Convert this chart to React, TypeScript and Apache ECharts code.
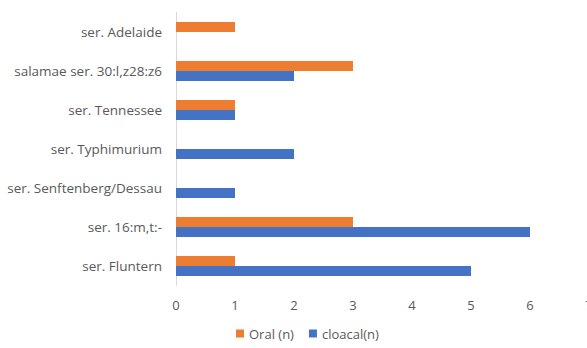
import React, { useEffect, useRef } from "react";
import * as echarts from "echarts";

const categories = [
  "ser. Fluntern",
  "ser. 16:m,t:-",
  "ser. Senftenberg/Dessau",
  "ser. Typhimurium",
  "ser. Tennessee",
  "salamae ser. 30:l,z28:z6",
  "ser. Adelaide",
];
const oralValues = [1, 3, 0, 0, 1, 3, 1];
const cloacalValues = [5, 6, 1, 2, 1, 2, 0];
const seriesNames = ["Oral (n)", "cloacal(n)"];

export default function App() {
  const ref = useRef<HTMLDivElement>(null);
  useEffect(() => {
    if (!ref.current) return;
    const chart = echarts.init(ref.current, null, { renderer: "svg" });
    const font = "Open Sans, Liberation Sans, sans-serif";
    chart.setOption({
      animation: false,
      textStyle: { fontFamily: font },
      grid: { left: 176, right: -2, top: 12.5, bottom: 62.5, outerBoundsMode: "none" },
      legend: {
        data: seriesNames,
        bottom: 3,
        left: 231,
        itemWidth: 8,
        itemHeight: 8,
        icon: "rect",
        itemGap: 15,
        textStyle: { color: "#595959", fontSize: 13, fontFamily: font },
      },
      xAxis: {
        type: "value",
        min: 0,
        max: 7,
        interval: 1,
        axisLine: { show: false },
        axisTick: { show: false },
        splitLine: { show: false },
        axisLabel: { color: "#595959", fontSize: 13, margin: 13, fontFamily: font },
      },
      yAxis: {
        type: "category",
        data: categories,
        axisLine: { show: true, lineStyle: { color: "#D9D9D9", width: 1 } },
        axisTick: { show: false },
        axisLabel: { color: "#595959", fontSize: 13.5, margin: 14, fontFamily: font },
      },
      series: [
        {
          name: seriesNames[0],
          type: "bar",
          data: oralValues,
          barWidth: 10,
          barGap: "0%",
          itemStyle: { color: "#ED7D31" },
        },
        {
          name: seriesNames[1],
          type: "bar",
          data: cloacalValues,
          barWidth: 10,
          barGap: "0%",
          itemStyle: { color: "#4472C4" },
        },
      ],
    });
    return () => chart.dispose();
  }, []);
  return <div ref={ref} style={{ width: 587, height: 348, position: "absolute", left: 0, top: 0 }} />;
}
